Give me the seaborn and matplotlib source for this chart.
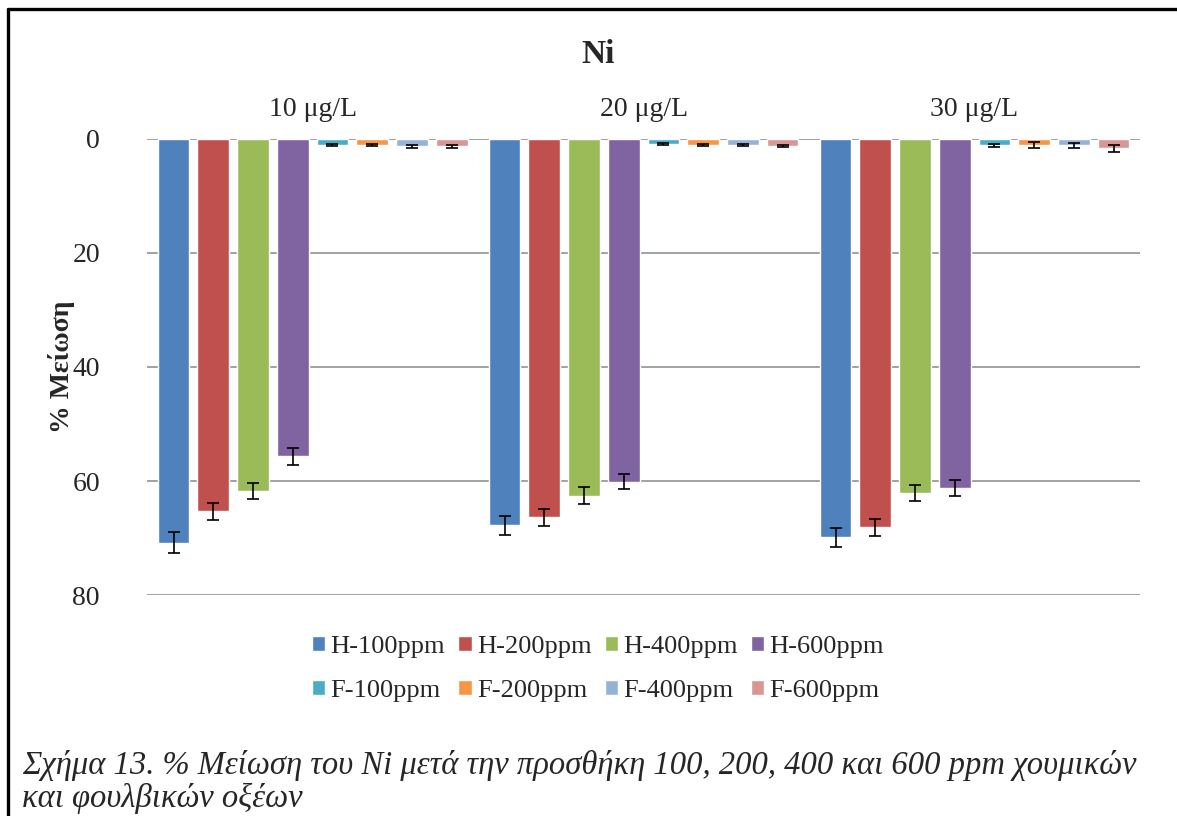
import numpy as np
import pandas as pd
import matplotlib
matplotlib.use("Agg")
import matplotlib.pyplot as plt
import seaborn as sns
from matplotlib.lines import Line2D

# data
groups = ["10 μg/L", "20 μg/L", "30 μg/L"]
series = ["H-100ppm", "H-200ppm", "H-400ppm", "H-600ppm",
          "F-100ppm", "F-200ppm", "F-400ppm", "F-600ppm"]
colors = ["#4F81BD", "#C0504D", "#9BBB59", "#8064A2",
          "#4BACC6", "#F79646", "#95B3D7", "#D99694"]

# % reduction, one list per series (10, 20, 30 μg/L)
h100 = [70.8, 67.8, 69.9]
h200 = [65.3, 66.4, 68.1]
h400 = [61.7, 62.6, 62.1]
h600 = [55.7, 60.1, 61.3]
f100 = [1.1, 0.9, 1.1]
f200 = [1.0, 1.0, 1.1]
f400 = [1.3, 1.0, 1.1]
f600 = [1.3, 1.2, 1.6]

# error bars
h100_err = [1.8, 1.6, 1.7]
h200_err = [1.5, 1.5, 1.5]
h400_err = [1.4, 1.5, 1.4]
h600_err = [1.5, 1.3, 1.4]
f100_err = [0.2, 0.2, 0.3]
f200_err = [0.2, 0.2, 0.5]
f400_err = [0.2, 0.2, 0.4]
f600_err = [0.2, 0.2, 0.6]

vals = [h100, h200, h400, h600, f100, f200, f400, f600]
errs = [h100_err, h200_err, h400_err, h600_err, f100_err, f200_err, f400_err, f600_err]

rows = []
for s, v, e in zip(series, vals, errs):
    for g, vv, ee in zip(groups, v, e):
        rows.append({"group": g, "series": s, "value": vv, "err": ee})
df = pd.DataFrame(rows)

sns.set_style("white")
plt.rcParams['font.family'] = ['Liberation Serif', 'DejaVu Serif']

fig = plt.figure(figsize=(11.77, 8.16), dpi=100)
ax = fig.add_axes([0.125, 0.2708, 0.8436, 0.5589])

sns.barplot(data=df, x="group", y="value", hue="series", order=groups,
            hue_order=series, palette=colors, errorbar=None,
            width=0.96, gap=0.2, saturation=1, ax=ax, legend=True)

# error bars at the bar centres
for cont, s in zip(ax.containers, series):
    sub = df[df["series"] == s].set_index("group").loc[groups]
    xs = [p.get_x() + p.get_width() / 2 for p in cont.patches]
    ax.errorbar(xs, sub["value"], yerr=sub["err"], fmt="none",
                ecolor="black", elinewidth=1.2, capsize=4, capthick=1.2)

ax.set_ylim(80, 0)
ax.set_xlim(-0.5, 2.5)
ax.set_yticks([0, 20, 40, 60, 80])
ax.yaxis.grid(True, color="#9a9a9a", linewidth=1.3)
ax.set_axisbelow(True)
for sp in ax.spines.values():
    sp.set_visible(False)
ax.xaxis.tick_top()
ax.tick_params(axis="x", length=0, pad=12, labelsize=20)
ax.tick_params(axis="y", length=0, pad=34, labelsize=20)
ax.set_xlabel("")
ax.set_ylabel("% Μείωση", fontsize=20, fontweight="bold", labelpad=-2)

# legend filled row by row (matplotlib fills columns first)
handles, labels = ax.get_legend_handles_labels()
ax.get_legend().remove()
order = [0, 4, 1, 5, 2, 6, 3, 7]
fig.legend([handles[i] for i in order], [labels[i] for i in order],
           loc="center", bbox_to_anchor=(0.508, 0.18),
           ncol=4, frameon=False, fontsize=19, handlelength=0.5,
           handleheight=0.5, handletextpad=0.2, columnspacing=0.5,
           labelspacing=0.85)

fig.text(0.508, 0.933, "Ni", ha="center", va="center", fontsize=24,
         fontweight="bold")

fig.text(0.019, 0.062, "Σχήμα 13. % Μείωση του Ni μετά την προσθήκη 100, 200, 400 και 600 ppm χουμικών",
         fontsize=23.5, style="italic", ha="left", va="center")
fig.text(0.019, 0.021, "και φουλβικών οξέων",
         fontsize=23.5, style="italic", ha="left", va="center")

# page frame (top and left edges)
fig.add_artist(Line2D([0.0065, 1.0], [0.9895, 0.9895], color="black", linewidth=2.4,
                      transform=fig.transFigure))
fig.add_artist(Line2D([0.0065, 0.0065], [0.0, 0.9895], color="black", linewidth=2.4,
                      transform=fig.transFigure))

fig.savefig("out.png", dpi=100)
